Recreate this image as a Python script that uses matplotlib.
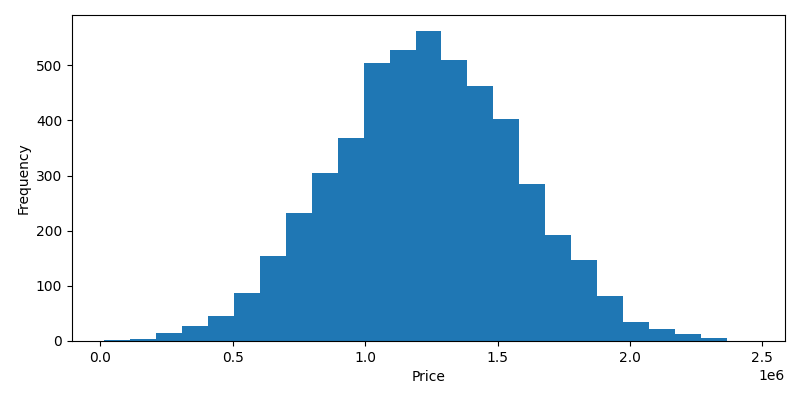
import numpy as np
import matplotlib
matplotlib.use("Agg")
import matplotlib.pyplot as plt

# histogram of prices, 25 bins (counts)
bin_lo = 16000
bin_hi = 2463000
counts = [2, 4, 14, 27, 45, 87, 154, 233, 305, 369, 505, 528, 563,
          510, 463, 403, 284, 193, 146, 82, 35, 22, 13, 6, 0]

edges = np.linspace(bin_lo, bin_hi, len(counts) + 1)
centers = (edges[:-1] + edges[1:]) / 2

fig, ax = plt.subplots(figsize=(8, 4), dpi=100)
ax.hist(centers, bins=edges, weights=counts)
ax.set_xlabel("Price")
ax.set_ylabel("Frequency")

fig.subplots_adjust(left=0.09, right=0.98125, top=0.9625, bottom=0.1475)
fig.savefig("out.png")
